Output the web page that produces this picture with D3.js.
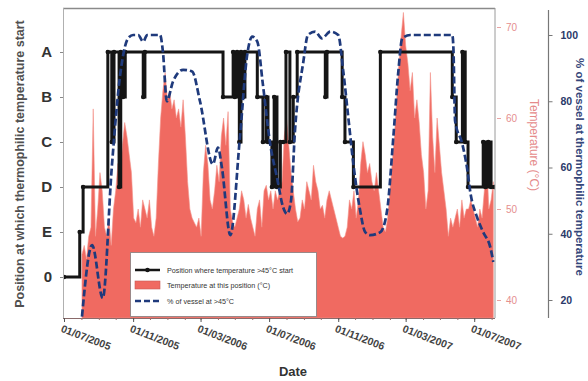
<!DOCTYPE html>
<html>
<head>
<meta charset="utf-8">
<script src="https://cdn.jsdelivr.net/npm/d3@7"></script>
<style>
  body { margin: 0; background: #fff; }
  svg { display: block; font-family: Arial, "Liberation Sans", sans-serif; }
</style>
</head>
<body>
<svg id="chart" width="588" height="381"></svg>
<script>
// position categories, bottom to top
const levelNames = ["0", "E", "D", "C", "B", "A"];

// position where temperature > 45°C starts (step series)
const positionDates = ["2005-07-01","2005-07-29","2005-08-04","2005-09-17","2005-09-24","2005-09-28",
  "2005-10-07","2005-10-10","2005-10-14","2005-10-18","2005-11-19","2005-11-22","2006-04-10",
  "2006-04-28","2006-05-01","2006-05-05","2006-05-09","2006-05-12","2006-05-16","2006-05-19",
  "2006-06-10","2006-06-20","2006-06-26","2006-06-29","2006-07-06","2006-07-10","2006-07-15",
  "2006-07-21","2006-07-26","2006-07-31","2006-08-07","2006-08-13","2006-08-20","2006-10-09",
  "2006-10-12","2006-11-08","2006-11-13","2006-11-28","2007-01-15","2007-05-23","2007-05-30",
  "2007-06-10","2007-06-15","2007-06-20","2007-07-17","2007-07-21","2007-07-26","2007-07-31",
  "2007-08-06"];
const positionLevels = ["0","E","D","A","C","A",
  "D","A","B","A","B","A","B",
  "A","B","A","C","A","B","A",
  "B","C","B","C","D","B","D",
  "C","C","A","C","B","A","B",
  "A","B","C","D","A","B","C",
  "A","C","D","C","D","C","D",
  "D"];

// % of vessel at >45°C
const vesselDates = ["2005-08-02","2005-08-20","2005-09-08","2005-09-24","2005-10-09","2005-10-23",
  "2005-11-01","2005-11-10","2005-11-19","2005-11-26","2005-12-19","2005-12-24","2005-12-31",
  "2006-01-11","2006-01-29","2006-02-14","2006-02-28","2006-03-23","2006-04-01","2006-04-08",
  "2006-04-23","2006-05-10","2006-05-23","2006-06-01","2006-06-10","2006-06-20","2006-07-03",
  "2006-07-15","2006-07-26","2006-08-02","2006-08-09","2006-08-16","2006-08-31","2006-09-08",
  "2006-09-21","2006-10-03","2006-10-18","2006-11-01","2006-11-10","2006-11-19","2006-11-28",
  "2006-12-10","2006-12-19","2006-12-28","2007-01-15","2007-01-27","2007-02-07","2007-02-16",
  "2007-02-23","2007-03-09","2007-05-23","2007-05-25","2007-05-28","2007-06-10","2007-06-19",
  "2007-06-24","2007-07-06","2007-07-17","2007-07-30","2007-08-04"];
const vesselPercent = [15, 36.6, 20.6, 60, 88, 99,
  100, 100, 98, 100, 100, 95, 80,
  86, 89.5, 89, 80, 61, 66, 60,
  39.6, 69, 94, 99.5, 98, 85, 67,
  57, 48, 46, 50, 71, 92, 100,
  101, 99, 101, 100, 89, 75, 61,
  47, 40.5, 39.6, 40.5, 47, 69, 89,
  99, 100, 100, 96, 74, 67, 59,
  52.6, 45, 40.5, 35.7, 31.5];

// temperature at this position (°C), one reading every 4 days
const tempStart = "2005-08-02";
const tempStepDays = 4;
const temperatureC = [45,46,44.5,47, 48,61,47, 50,54,52, 48,47,49,46, 50,52,55,53,
  57,59.5,58,56,54, 49,48.5,50,48, 51,50,49,51, 48,47,49, 55,60,63,65,62,63,
  61,62,60,61,59,62,58, 53,50,49,48.5, 48,49,47, 54,57,55, 51,50,52, 54.8,53,
  58,60,57,60.7, 50,48.6,48,49,50, 52,51,49,50.5, 49,48,47,50,51,48,
  52,52.6,51,52,50,52,51,52,53, 58,60,57,54, 52,50,48.6,49,51,50, 53,52,51,
  54.8,53,52, 50,50.4,49,51, 52,51,50, 49,48,47, 46.8,47,48, 51,50,52,49,51,
  55,57.4,56,54, 55,53,52,54,52, 50,48,47.5,49, 52,55,58,62, 66,69,71.6,68,66,63,
  65,60,62,59.6, 56,54,50,52, 65,58,54, 60,57,54,52, 50,47,49,48,
  49,50,48,51,49,50, 50,51,50,49, 48,50,49, 52,56,50,51,53];

const xTickLabels = ["01/07/2005","01/11/2005","01/03/2006","01/07/2006","01/11/2006","01/03/2007","01/07/2007"];
const tempTicks = [40, 50, 60, 70];
const percentTicks = [20, 40, 60, 80, 100];

const parseIso = d3.timeParse("%Y-%m-%d");
const parseLabel = d3.timeParse("%d/%m/%Y");

const plotLeft = 63, plotRight = 495, plotTop = 8, plotBottom = 318;
const svg = d3.select("#chart");

const x = d3.scaleTime()
  .domain([parseIso("2005-07-01"), parseIso("2007-08-07")])
  .range([64, plotRight]);
const yPos = d3.scaleLinear().domain([0, 5]).range([277, 52]);
const yTemp = d3.scaleLinear().domain([40, 70]).range([300, 27]);
const yPct = d3.scaleLinear().domain([20, 100]).range([300, 35]);

svg.append("clipPath").attr("id", "plot")
  .append("rect").attr("x", plotLeft).attr("y", plotTop)
  .attr("width", plotRight - plotLeft).attr("height", plotBottom - plotTop);

// ---- temperature area
const t0 = parseIso(tempStart);
const tempData = temperatureC.map((t, i) => ({ date: d3.timeDay.offset(t0, i * tempStepDays), t: t }));

const area = d3.area()
  .x(d => x(d.date))
  .y0(plotBottom)
  .y1(d => yTemp(d.t));

const g = svg.append("g").attr("clip-path", "url(#plot)");
g.append("path")
  .datum(tempData)
  .attr("fill", "#f06a61")
  .attr("stroke", "#f3948c")
  .attr("stroke-width", 0.6)
  .attr("d", area);

// ---- position step line
const posData = positionDates.map((d, i) => ({ date: parseIso(d), lvl: levelNames.indexOf(positionLevels[i]) }));
const stepLine = d3.line()
  .x(d => x(d.date))
  .y(d => yPos(d.lvl))
  .curve(d3.curveStepAfter);

g.append("path")
  .datum(posData)
  .attr("fill", "none")
  .attr("stroke", "#151515")
  .attr("stroke-width", 3)
  .attr("d", stepLine);

g.selectAll("circle.pos")
  .data(posData)
  .enter().append("circle")
  .attr("class", "pos")
  .attr("cx", d => x(d.date))
  .attr("cy", d => yPos(d.lvl))
  .attr("r", 2.3)
  .attr("fill", "#151515");

// ---- % of vessel dashed line
const pctData = vesselDates.map((d, i) => ({ date: parseIso(d), p: vesselPercent[i] }));
const pctLine = d3.line()
  .x(d => x(d.date))
  .y(d => yPct(d.p))
  .curve(d3.curveMonotoneX);

g.append("path")
  .datum(pctData)
  .attr("fill", "none")
  .attr("stroke", "#1f3a7c")
  .attr("stroke-width", 2.7)
  .attr("stroke-dasharray", "7,3")
  .attr("d", pctLine);

// ---- frame
svg.append("line").attr("x1", plotLeft).attr("x2", plotRight).attr("y1", plotTop + 0.5).attr("y2", plotTop + 0.5)
  .attr("stroke", "#8a8a8a").attr("stroke-width", 1.5);
svg.append("line").attr("x1", plotRight).attr("x2", plotRight).attr("y1", plotTop).attr("y2", plotBottom)
  .attr("stroke", "#9a9a9a").attr("stroke-width", 1);
svg.append("line").attr("x1", plotLeft + 0.5).attr("x2", plotLeft + 0.5).attr("y1", plotTop).attr("y2", plotBottom)
  .attr("stroke", "#b0b0b0").attr("stroke-width", 1);
svg.append("line").attr("x1", plotLeft).attr("x2", plotRight).attr("y1", plotBottom + 0.5).attr("y2", plotBottom + 0.5)
  .attr("stroke", "#8a6a6a").attr("stroke-width", 1);

// ---- left axis (positions)
const leftAxis = svg.append("g")
  .attr("transform", "translate(" + plotLeft + ",0)")
  .call(d3.axisLeft(yPos).tickValues([0, 1, 2, 3, 4, 5]).tickFormat(i => levelNames[i]).tickSize(3).tickPadding(8));
leftAxis.select(".domain").remove();
leftAxis.selectAll("line").attr("stroke", "#888");
leftAxis.selectAll("text")
  .attr("font-size", 15).attr("font-weight", "bold").attr("fill", "#333")
  .attr("font-family", "Arial, 'Liberation Sans', sans-serif");

// ---- bottom axis (dates)
const xTicks = xTickLabels.map(parseLabel);
svg.append("g")
  .attr("transform", "translate(0," + plotBottom + ")")
  .call(d3.axisBottom(x).ticks(d3.timeMonth.every(1)).tickSize(2).tickFormat(""))
  .call(a => a.select(".domain").remove())
  .call(a => a.selectAll("line").attr("stroke", "#a07070"));
const xAxis = svg.append("g")
  .attr("transform", "translate(0," + plotBottom + ")")
  .call(d3.axisBottom(x).tickValues(xTicks).tickSize(4).tickFormat(""));
xAxis.select(".domain").remove();
xAxis.selectAll("line").attr("stroke", "#555");

svg.append("g").selectAll("text")
  .data(xTicks)
  .enter().append("text")
  .attr("transform", d => "translate(" + (x(d) - 1) + "," + 324 + ") rotate(21)")
  .attr("dominant-baseline", "hanging")
  .attr("font-size", 10.5)
  .attr("font-weight", "bold")
  .attr("fill", "#444")
  .text((d, i) => xTickLabels[i]);

svg.append("text")
  .attr("x", 293).attr("y", 376)
  .attr("text-anchor", "middle")
  .attr("font-size", 13).attr("font-weight", "bold").attr("fill", "#333")
  .text("Date");

// ---- temperature axis
const tAxis = svg.append("g")
  .attr("transform", "translate(" + (plotRight + 2) + ",0)")
  .call(d3.axisRight(yTemp).tickValues(tempTicks).tickSize(4).tickPadding(5));
tAxis.select(".domain").remove();
tAxis.selectAll("line").attr("stroke", "#e9a3a3");
tAxis.selectAll("text").attr("fill", "#e58e8e").attr("font-size", 10)
  .attr("font-family", "Arial, 'Liberation Sans', sans-serif");

svg.append("text")
  .attr("transform", "translate(530,145) rotate(90)")
  .attr("text-anchor", "middle")
  .attr("font-size", 12).attr("fill", "#e58a8a")
  .text("Temperature (°C)");

// ---- percent axis
svg.append("line").attr("x1", 548.5).attr("x2", 548.5).attr("y1", 10).attr("y2", plotBottom)
  .attr("stroke", "#777").attr("stroke-width", 1.2);
const pAxis = svg.append("g")
  .attr("transform", "translate(548.5,0)")
  .call(d3.axisRight(yPct).tickValues(percentTicks).tickSize(4).tickPadding(8));
pAxis.select(".domain").remove();
pAxis.selectAll("line").attr("stroke", "#777");
pAxis.selectAll("text").attr("fill", "#2a3a6a").attr("font-size", 10.5).attr("font-weight", "bold")
  .attr("font-family", "Arial, 'Liberation Sans', sans-serif");

svg.append("text")
  .attr("transform", "translate(576,167) rotate(90)")
  .attr("text-anchor", "middle")
  .attr("font-size", 11.5).attr("font-weight", "bold").attr("fill", "#34467a")
  .text("% of vessel at thermophilic temperature");

svg.append("text")
  .attr("transform", "translate(24,164) rotate(-90)")
  .attr("text-anchor", "middle")
  .attr("font-size", 12.5).attr("font-weight", "bold").attr("fill", "#505050")
  .text("Position at which thermophilic temperature start");

// ---- legend
const lg = svg.append("g");
lg.append("rect")
  .attr("x", 130.5).attr("y", 252.5).attr("width", 186).attr("height", 64)
  .attr("fill", "#fff").attr("stroke", "#9a8888").attr("stroke-width", 1);
lg.append("line").attr("x1", 135).attr("x2", 160).attr("y1", 270).attr("y2", 270)
  .attr("stroke", "#151515").attr("stroke-width", 2.5);
lg.append("circle").attr("cx", 147.5).attr("cy", 270).attr("r", 2.3).attr("fill", "#151515");
lg.append("rect").attr("x", 135).attr("y", 281).attr("width", 25).attr("height", 8)
  .attr("fill", "#f06a61").attr("stroke", "#c85a55").attr("stroke-width", 0.6);
lg.append("line").attr("x1", 135).attr("x2", 160).attr("y1", 301).attr("y2", 301)
  .attr("stroke", "#1f3a7c").attr("stroke-width", 2.5).attr("stroke-dasharray", "6,3");
const legendTexts = ["Position where temperature >45°C start", "Temperature at this position (°C)", "% of vessel at >45°C"];
lg.selectAll("text.lt")
  .data(legendTexts)
  .enter().append("text")
  .attr("class", "lt")
  .attr("x", 167)
  .attr("y", (d, i) => [272.5, 287.5, 303.5][i])
  .attr("font-size", 7.2).attr("fill", "#333")
  .text(d => d);
</script>
</body>
</html>
